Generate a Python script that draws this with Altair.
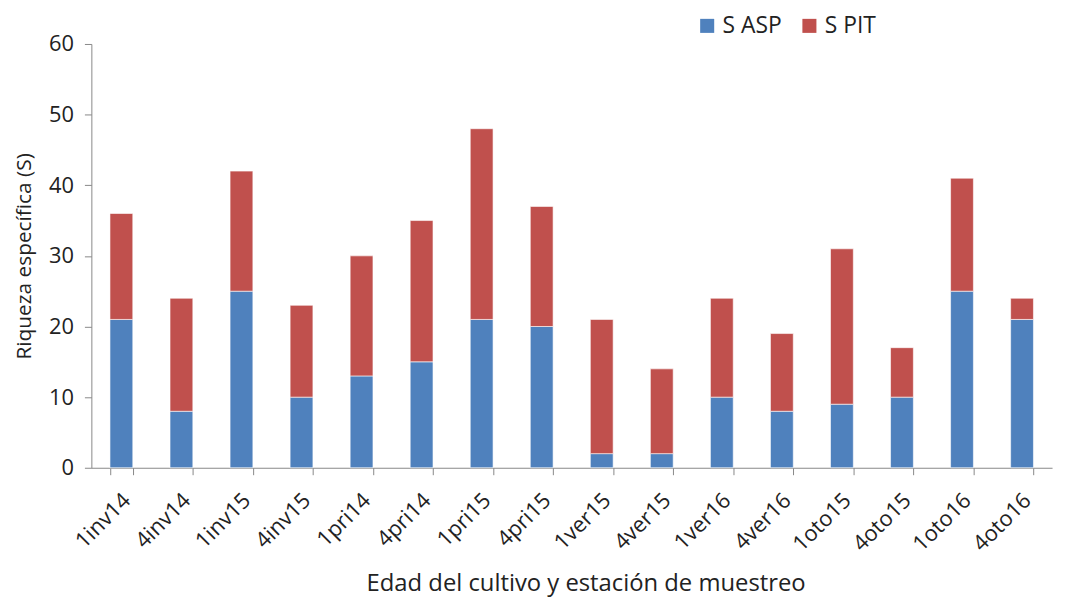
import altair as alt
import pandas as pd

categories = ["1inv14", "4inv14", "1inv15", "4inv15", "1pri14", "4pri14", "1pri15", "4pri15",
              "1ver15", "4ver15", "1ver16", "4ver16", "1oto15", "4oto15", "1oto16", "4oto16"]
s_asp = [21, 8, 25, 10, 13, 15, 21, 20, 2, 2, 10, 8, 9, 10, 25, 21]
s_pit = [15, 16, 17, 13, 17, 20, 27, 17, 19, 12, 14, 11, 22, 7, 16, 3]
series = ["S ASP", "S PIT"]
colors = ["#4F81BD", "#C0504D"]

rows = []
for i, c in enumerate(categories):
    rows.append({"cat": c, "serie": series[0], "val": s_asp[i], "ord": 0})
    rows.append({"cat": c, "serie": series[1], "val": s_pit[i], "ord": 1})
df = pd.DataFrame(rows)

FONT = "Open Sans"

chart = alt.Chart(df).mark_bar(stroke="white", strokeWidth=0.6).encode(
    x=alt.X("cat:N", sort=categories,
            scale=alt.Scale(paddingInner=0.62, paddingOuter=0.31),
            axis=alt.Axis(title="Edad del cultivo y estación de muestreo",
                          labelAngle=315, labelAlign="right", labelBaseline="middle",
                          labelFontSize=22, labelColor="#222222", labelPadding=22,
                          labelOffset=5,
                          tickBand="extent", tickSize=7, tickColor="#888888",
                          domainColor="#888888", titleFontSize=24, titleFontWeight="normal",
                          titleColor="#222222", titlePadding=17,
                          titleX=498, titleAlign="center")),
    y=alt.Y("val:Q", stack="zero",
            scale=alt.Scale(domain=[0, 60]),
            axis=alt.Axis(title="Riqueza específica (S)", values=[0, 10, 20, 30, 40, 50, 60],
                          grid=False, labelFontSize=22, labelColor="#222222",
                          tickSize=7, tickColor="#888888", domainColor="#888888",
                          labelPadding=11, titleFontSize=21, titleFontWeight="normal",
                          titleColor="#222222", titlePadding=14)),
    color=alt.Color("serie:N", sort=series,
                    scale=alt.Scale(domain=series, range=colors),
                    legend=alt.Legend(title=None, orient="none", legendX=609, legendY=-30,
                                      direction="horizontal", symbolType="square",
                                      symbolSize=200, labelFontSize=23, labelColor="#222222",
                                      columnPadding=16, symbolStrokeWidth=0)),
    order=alt.Order("ord:Q"),
).properties(
    width=968, height=427,
    autosize=alt.AutoSizeParams(type="none"),
    padding={"left": 84, "top": 34, "right": 8, "bottom": 131},
).configure(font=FONT).configure_view(stroke=None)

chart.save("out.html", embed_options={"renderer": "svg", "actions": False})
